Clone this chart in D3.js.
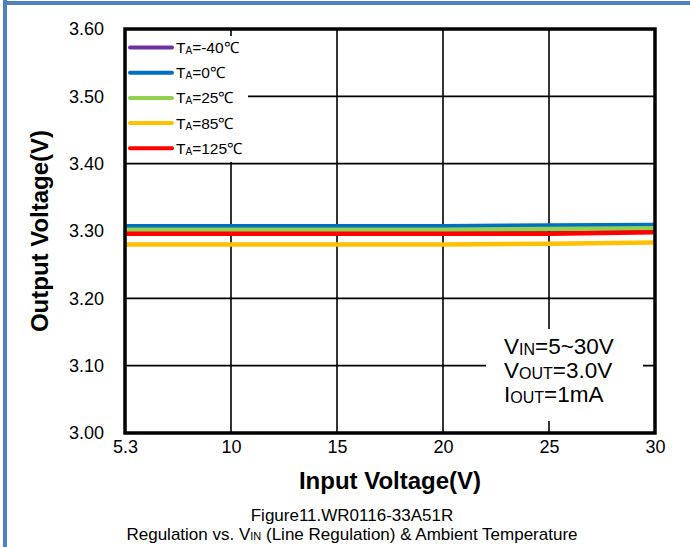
<!DOCTYPE html>
<html>
<head>
<meta charset="utf-8">
<script src="https://cdn.jsdelivr.net/npm/d3@7/dist/d3.min.js"></script>
<style>
  html, body { margin: 0; padding: 0; background: #fff; }
  svg { display: block; font-family: "Liberation Sans", Arial, sans-serif; }
</style>
</head>
<body>
<div id="vis"></div>
<script>
// input voltage categories (excel style category axis)
const inputVoltages = ['5.3', '10', '15', '20', '25', '30'];
const yTicks = [3.0, 3.1, 3.2, 3.3, 3.4, 3.5, 3.6];

// output voltage per temperature
const tempLabels = ['-40', '0', '25', '85', '125'];
const tempColors = ['#7030a0', '#0070c0', '#92d050', '#ffc000', '#ff0000'];
const vout_m40 = [3.304, 3.304, 3.304, 3.304, 3.305, 3.307];
const vout_0 = [3.307, 3.307, 3.307, 3.307, 3.308, 3.309];
const vout_25 = [3.302, 3.302, 3.302, 3.302, 3.303, 3.304];
const vout_85 = [3.280, 3.280, 3.280, 3.280, 3.281, 3.283];
const vout_125 = [3.296, 3.296, 3.296, 3.296, 3.296, 3.298];

const seriesValues = [vout_m40, vout_0, vout_25, vout_85, vout_125];
// red is drawn last so it sits on top, like the original
const drawOrder = [0, 1, 2, 3, 4];

const width = 690;
const height = 547;
const plot = { left: 125, right: 655, top: 29, bottom: 433 };

let svg = d3.select('#vis')
  .append('svg')
  .attr('width', width)
  .attr('height', height);

// outer frame, only left and top edges show
svg.append('rect').attr('x', 3).attr('y', 0).attr('width', 4).attr('height', height).attr('fill', '#4f81bd');
svg.append('rect').attr('x', 3).attr('y', 1).attr('width', width).attr('height', 4).attr('fill', '#4f81bd');

let x = d3.scalePoint()
  .domain(inputVoltages)
  .range([plot.left, plot.right])
  .padding(0);

let y = d3.scaleLinear()
  .domain([3.0, 3.6])
  .range([plot.bottom, plot.top]);

// grid lines
let grid = svg.append('g').attr('class', 'grid');
grid.selectAll('.vgrid')
  .data(inputVoltages.slice(1, -1))
  .enter().append('line')
  .attr('x1', d => x(d)).attr('x2', d => x(d))
  .attr('y1', plot.top).attr('y2', plot.bottom)
  .attr('stroke', '#000').attr('stroke-width', 1.6);
grid.selectAll('.hgrid')
  .data(yTicks.slice(1, -1))
  .enter().append('line')
  .attr('x1', plot.left).attr('x2', plot.right)
  .attr('y1', d => y(d)).attr('y2', d => y(d))
  .attr('stroke', '#000').attr('stroke-width', 1.6);

// data lines
let line = d3.line()
  .x((d, i) => x(inputVoltages[i]))
  .y(d => y(d));

svg.append('g').selectAll('path')
  .data(drawOrder)
  .enter().append('path')
  .attr('d', i => line(seriesValues[i]))
  .attr('fill', 'none')
  .attr('stroke', i => tempColors[i])
  .attr('stroke-width', 4.5);

// white boxes behind legend and note hide the grid
svg.append('rect').attr('x', plot.left).attr('y', 36).attr('width', 123).attr('height', 126).attr('fill', '#fff');
svg.append('rect').attr('x', 486).attr('y', 329).attr('width', 157).attr('height', 92).attr('fill', '#fff');

// axes: tick labels only, the frame is drawn by hand
let xAxis = d3.axisBottom(x).tickSize(0).tickPadding(7);
let gx = svg.append('g')
  .attr('transform', 'translate(0,' + plot.bottom + ')')
  .call(xAxis);
gx.select('.domain').remove();
gx.selectAll('text')
  .attr('font-size', 18)
  .attr('font-family', '"Liberation Sans", Arial, sans-serif')
  .attr('fill', '#000');

let yAxis = d3.axisLeft(y).tickValues(yTicks).tickFormat(d3.format('.2f')).tickSize(0).tickPadding(21);
let gy = svg.append('g')
  .attr('transform', 'translate(' + plot.left + ',0)')
  .call(yAxis);
gy.select('.domain').remove();
gy.selectAll('text')
  .attr('font-size', 18)
  .attr('font-family', '"Liberation Sans", Arial, sans-serif')
  .attr('fill', '#000');

// plot border
svg.append('rect')
  .attr('x', plot.left).attr('y', plot.top)
  .attr('width', plot.right - plot.left).attr('height', plot.bottom - plot.top)
  .attr('fill', 'none').attr('stroke', '#000').attr('stroke-width', 3.5);

// axis titles
svg.append('text')
  .attr('x', (plot.left + plot.right) / 2).attr('y', 489)
  .attr('text-anchor', 'middle')
  .attr('font-size', 24).attr('font-weight', 'bold')
  .text('Input Voltage(V)');

svg.append('text')
  .attr('transform', 'translate(48,' + (plot.top + plot.bottom) / 2 + ') rotate(-90)')
  .attr('text-anchor', 'middle')
  .attr('font-size', 24).attr('font-weight', 'bold')
  .text('Output Voltage(V)');

// legend
let legend = svg.append('g').attr('class', 'legend');
let rows = legend.selectAll('g')
  .data(tempLabels)
  .enter().append('g')
  .attr('transform', (d, i) => 'translate(130,' + (47.5 + i * 25.2) + ')');
rows.append('line')
  .attr('x1', 0).attr('x2', 42)
  .attr('stroke', (d, i) => tempColors[i])
  .attr('stroke-width', 4)
  .attr('stroke-linecap', 'round');
let lt = rows.append('text')
  .attr('x', 46).attr('y', 5.5)
  .attr('font-size', 15.5);
lt.append('tspan').text('T');
lt.append('tspan').attr('font-size', 10).attr('dy', 1).text('A');
lt.append('tspan').attr('dy', -1).text(d => '=' + d + '℃');

// test condition note
const noteLines = [['V', 'IN', '=5~30V'], ['V', 'OUT', '=3.0V'], ['I', 'OUT', '=1mA']];
let note = svg.append('g').selectAll('text')
  .data(noteLines)
  .enter().append('text')
  .attr('x', 504)
  .attr('y', (d, i) => 354 + i * 24)
  .attr('font-size', 22.5);
note.append('tspan').text(d => d[0]);
note.append('tspan').attr('font-size', 16).attr('dy', 1).text(d => d[1]);
note.append('tspan').attr('dy', -1).text(d => d[2]);

// figure caption
svg.append('text')
  .attr('x', 352).attr('y', 521)
  .attr('text-anchor', 'middle')
  .attr('font-size', 17)
  .text('Figure11.WR0116-33A51R');
let cap = svg.append('text')
  .attr('x', 352).attr('y', 540)
  .attr('text-anchor', 'middle')
  .attr('font-size', 17);
cap.append('tspan').text('Regulation vs. V');
cap.append('tspan').attr('font-size', 11).text('IN');
cap.append('tspan').text(' (Line Regulation) & Ambient Temperature');
</script>
</body>
</html>
